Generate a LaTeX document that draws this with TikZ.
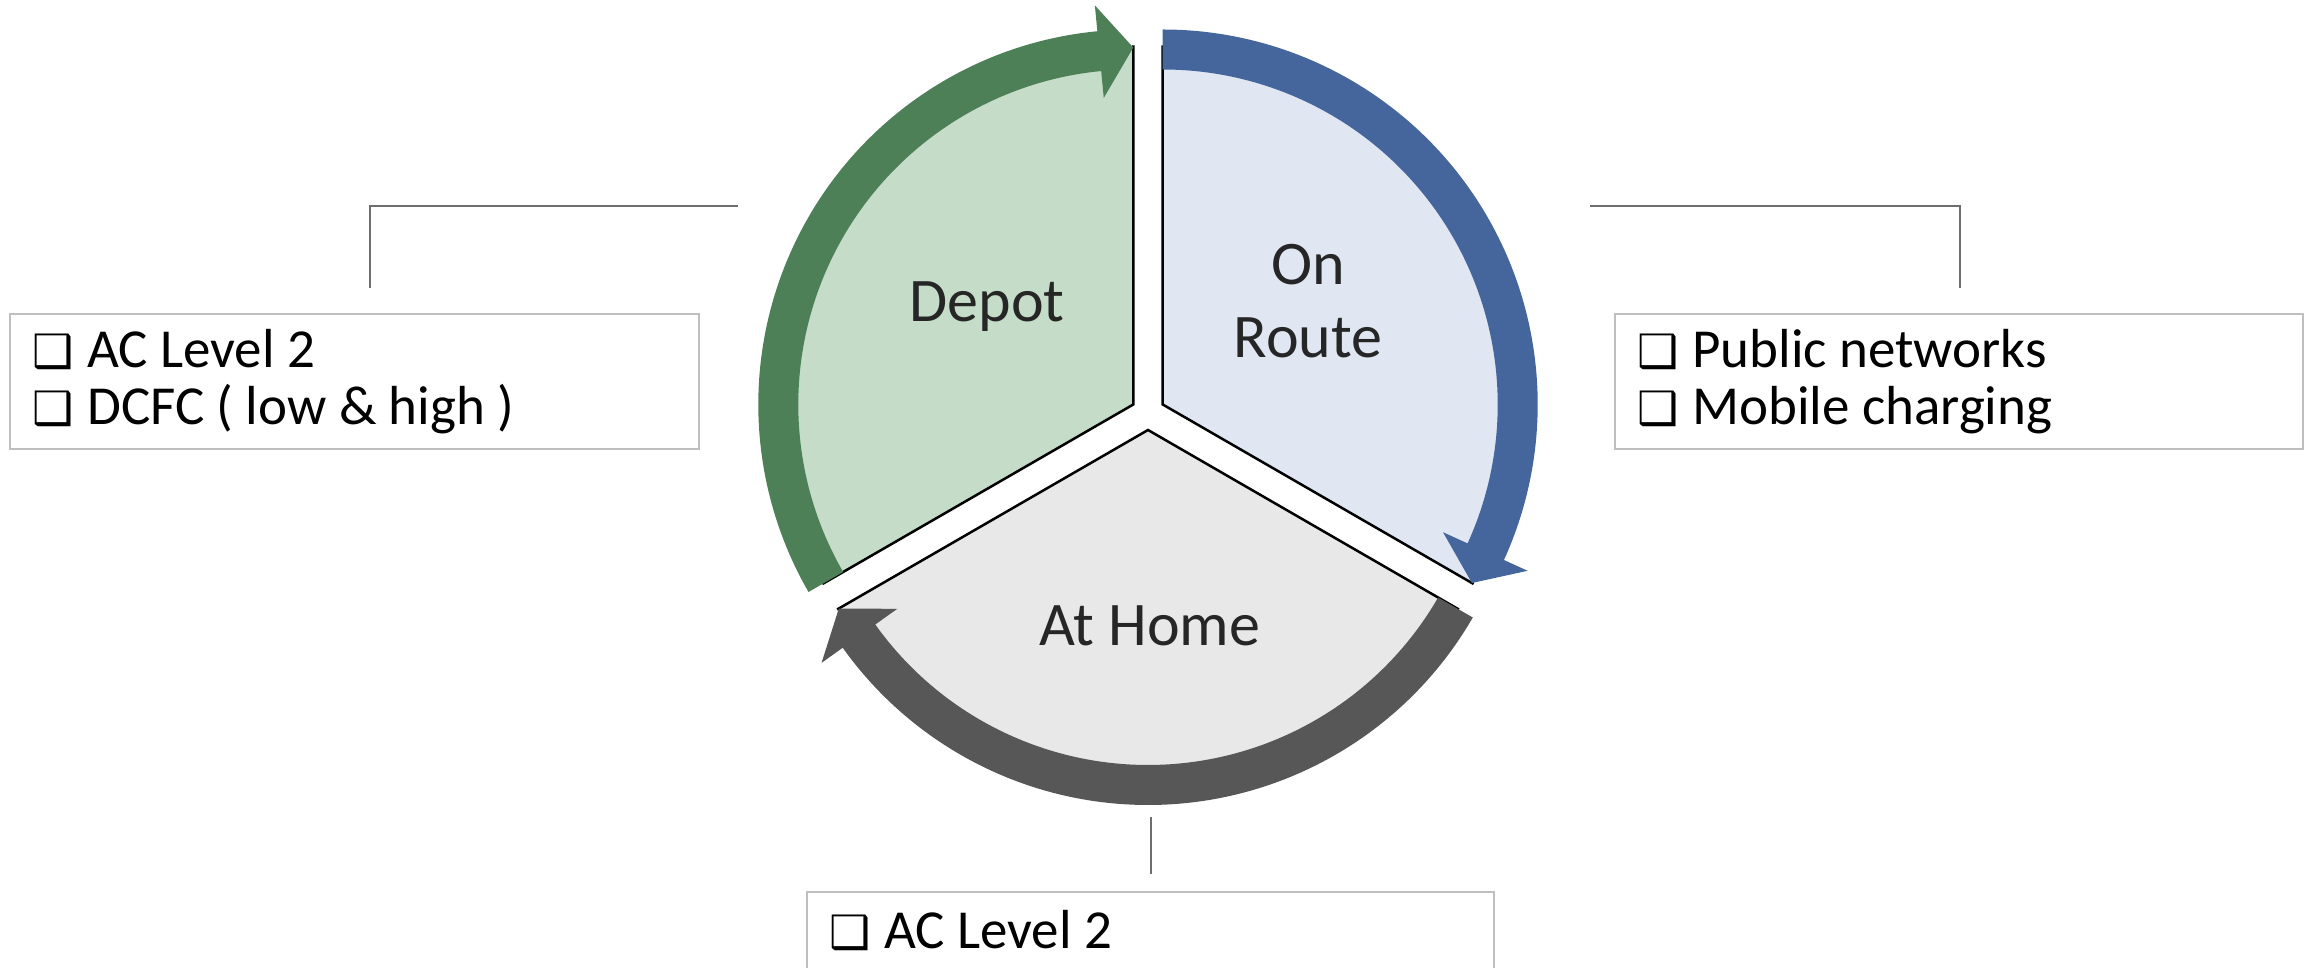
\documentclass[tikz,border=0pt]{standalone}
\usepackage{fontspec}
\setmainfont{Carlito}
\newfontfamily\dingfont{DejaVu Sans}
\usetikzlibrary{calc}

\definecolor{depotband}{RGB}{78,128,88}
\definecolor{depotfill}{RGB}{197,220,201}
\definecolor{routeband}{RGB}{68,102,156}
\definecolor{routefill}{RGB}{224,231,242}
\definecolor{homeband}{RGB}{87,87,87}
\definecolor{homefill}{RGB}{232,232,232}
\definecolor{boxline}{RGB}{191,191,191}
\definecolor{leadergray}{RGB}{110,110,110}
\definecolor{labeltext}{RGB}{38,38,38}

% square check-box bullet followed by a fixed gap
\newcommand\boxmark{\makebox[55pt][l]{\dingfont\bfseries\fontsize{46}{46}\selectfont ❑}}

\begin{document}
\begin{tikzpicture}[x=1pt,y=1pt,
  sectoredge/.style={draw=black,line width=2.5pt,line join=miter},
  sectorlabel/.style={font=\fontsize{62}{74}\selectfont,text=labeltext,inner sep=0pt,anchor=base},
  infobox/.style={draw=boxline,line width=2pt,fill=white,inner sep=0pt,anchor=north west},
  item/.style={font=\fontsize{55}{66}\selectfont,text=black,inner sep=0pt,anchor=base west},
  leader/.style={draw=leadergray,line width=1.6pt},
]
\useasboundingbox (0,0) rectangle (2313,967);
\clip (0,0) rectangle (2313,967);

% hub of the cycle and the apexes of the three separated sectors
\coordinate (hub) at (1148,554);
\coordinate (depotapex) at ($(hub)+(150:17)$);
\coordinate (routeapex) at ($(hub)+(30:17)$);
\coordinate (homeapex)  at ($(hub)+(270:17)$);

% Depot sector with its clockwise arrow
\begin{scope}[shift={(depotapex)}]
  \fill[depotfill] (0,0) -- (90:359) arc[start angle=90,end angle=210,radius=359] -- cycle;
  \draw[sectoredge] (90:359) -- (0,0) -- (210:359);
  \fill[depotband] (210:335) arc[start angle=210,end angle=95.5,radius=335]
    -- (95.5:308) -- (90:357) -- (95.5:401) -- (95.5:375)
    arc[start angle=95.5,end angle=210,radius=375] -- cycle;
\end{scope}

% On Route sector with its clockwise arrow
\begin{scope}[shift={(routeapex)}]
  \fill[routefill] (0,0) -- (-30:359) arc[start angle=-30,end angle=90,radius=359] -- cycle;
  \draw[sectoredge] (90:359) -- (0,0) -- (-30:359);
  \fill[routeband] (90:375) arc[start angle=90,end angle=-24.5,radius=375]
    -- (-24.5:401) -- (-30:357) -- (-24.5:308) -- (-24.5:335)
    arc[start angle=-24.5,end angle=90,radius=335] -- cycle;
\end{scope}

% At Home sector with its clockwise arrow
\begin{scope}[shift={(homeapex)}]
  \fill[homefill] (0,0) -- (210:359) arc[start angle=210,end angle=330,radius=359] -- cycle;
  \draw[sectoredge] (210:359) -- (0,0) -- (330:359);
  \fill[homeband] (330:375) arc[start angle=330,end angle=215.5,radius=375]
    -- (215.5:401) -- (210:357) -- (215.5:308) -- (215.5:335)
    arc[start angle=215.5,end angle=330,radius=335] -- cycle;
\end{scope}

% sector titles
\node[sectorlabel] (depotlabel) at (987,645) {Depot};
\node[sectorlabel] (routelabelA) at (1308,682) {On};
\node[sectorlabel] (routelabelB) at (1308,609) {Route};
\node[sectorlabel] (homelabel) at (1150,321) {At Home};

% option boxes
\node[infobox,minimum width=689pt,minimum height=135pt] (depotbox) at (9,654) {};
\node[infobox,minimum width=688pt,minimum height=135pt] (routebox) at (1614,654) {};
\node[infobox,minimum width=687pt,minimum height=140pt] (homebox) at (806,76) {};

\node[item] (depotitemA) at (32,599) {\boxmark AC Level 2};
\node[item] (depotitemB) at (32,542) {\boxmark DCFC ( low \& high )};
\node[item] (routeitemA) at (1637,599) {\boxmark Public networks};
\node[item] (routeitemB) at (1637,542) {\boxmark Mobile charging};
\node[item] (homeitemA) at (829,19) {\boxmark AC Level 2};

% leader lines from the boxes toward the cycle
\coordinate (depotfoot) at (370,679);
\coordinate (depotknee) at (370,761);
\coordinate (depottip) at (738,761);
\draw[leader] (depotfoot) -- (depotknee) -- (depottip);

\coordinate (routefoot) at (1960,679);
\coordinate (routeknee) at (1960,761);
\coordinate (routetip) at (1590,761);
\draw[leader] (routefoot) -- (routeknee) -- (routetip);

\coordinate (homefoot) at (1151,93);
\coordinate (hometip) at (1151,150);
\draw[leader] (homefoot) -- (hometip);
\end{tikzpicture}
\end{document}
